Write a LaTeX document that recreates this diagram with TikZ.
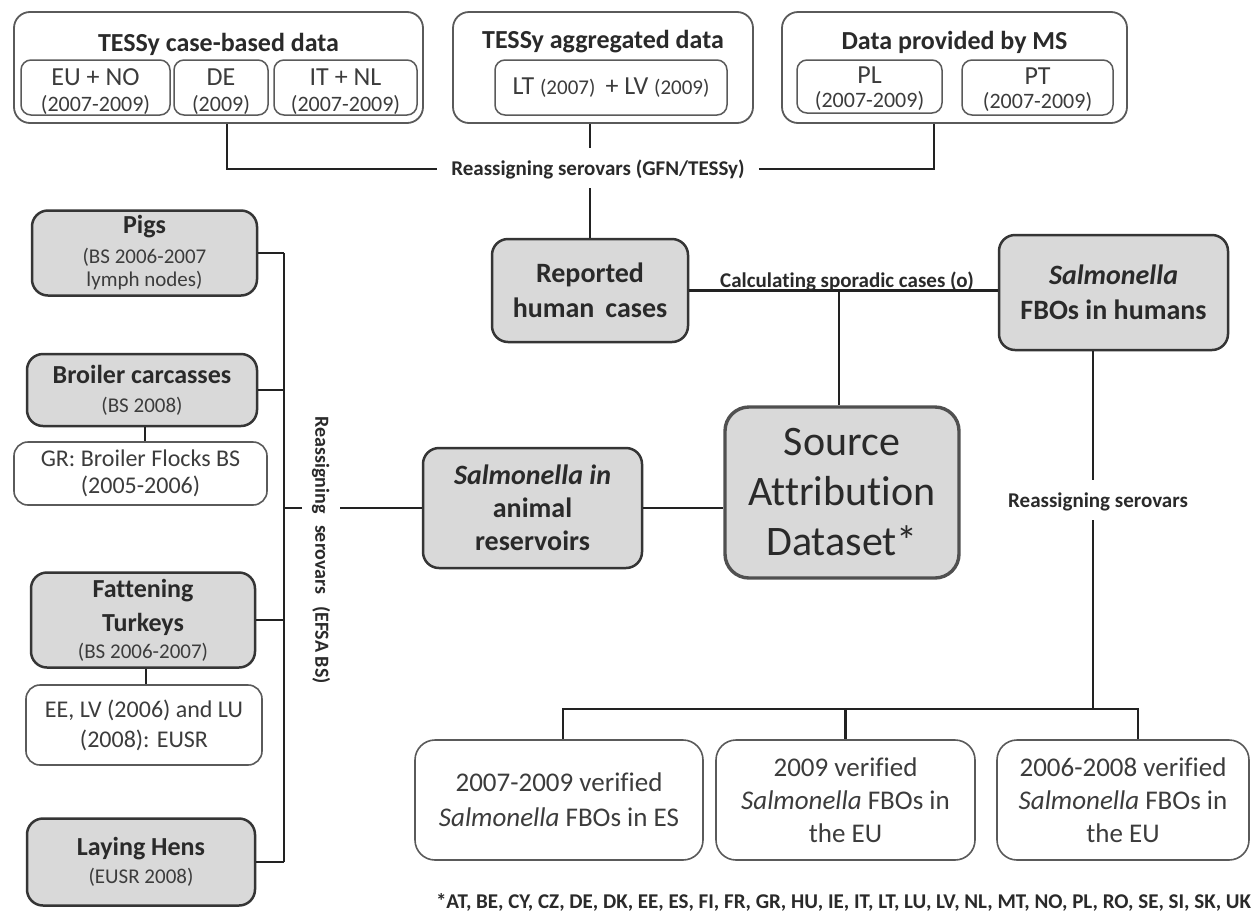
\documentclass[tikz,border=0pt]{standalone}
\usepackage{fontspec}
\setmainfont{Carlito}[Ligatures={NoCommon}]
\usetikzlibrary{calc}
\definecolor{gfill}{HTML}{D9D9D9}
\definecolor{gline}{HTML}{353535}
\definecolor{wline}{HTML}{5A5A5A}
\definecolor{txtc}{HTML}{2A2A2A}
\definecolor{wtxt}{HTML}{3C3C3C}
\definecolor{connc}{HTML}{222222}
\definecolor{srcline}{HTML}{505050}
\newcommand{\fsz}[2]{\fontsize{#1}{#2}\selectfont}
\begin{document}
\begin{tikzpicture}[x=1pt,y=-1pt,
  outerbox/.style={draw=wline, line width=1.8pt, rounded corners=16pt, inner sep=0pt},
  subbox/.style={draw=wline, line width=1.5pt, rounded corners=10pt, inner sep=0pt},
  subtxt/.style={align=center, text=wtxt, inner sep=0pt, font=\fsz{26}{26}},
  gbox/.style={draw=gline, fill=gfill, line width=2.5pt, rounded corners=16pt, inner sep=0pt, align=center, text=txtc},
  wbox/.style={draw=wline, fill=white, line width=1.6pt, rounded corners=14pt, inner sep=0pt, align=center, text=wtxt},
  ttl/.style={font=\bfseries\fsz{26}{30}, text=txtc, inner sep=0pt},
  lab/.style={font=\bfseries\fsz{21}{24}, text=txtc, inner sep=0pt},
  conn/.style={draw=connc, line width=2.4pt},
]
\fill[white] (0,0) rectangle (1252,911);
\useasboundingbox (0,0) rectangle (1252,911);

% ---------- top row ----------
\node[outerbox, minimum width=409pt, minimum height=111pt] (A) at (218.5,67.5) {};
\node[ttl] (At) at (218.5,44) {TESSy case-based data};
\node[subbox, minimum width=149pt, minimum height=55pt] (A1) at (95.5,87.5) {};
\node[subbox, minimum width=94pt, minimum height=55pt] (A2) at (221,87.5) {};
\node[subbox, minimum width=143pt, minimum height=55pt] (A3) at (345.5,87.5) {};
\node[subtxt] (A1t) at (95.5,92) {EU + NO\\{\fsz{22}{26}(2007-2009)}};
\node[subtxt] (A2t) at (221,92) {DE\\{\fsz{22}{26}(2009)}};
\node[subtxt] (A3t) at (345.5,92) {IT + NL\\{\fsz{22}{26}(2007-2009)}};

\node[outerbox, minimum width=300pt, minimum height=111pt] (B) at (603,67.5) {};
\node[ttl] (Bt) at (603,42) {TESSy aggregated data};
\node[subbox, minimum width=232pt, minimum height=55pt] (B1s) at (611,87.5) {};
\node[subtxt] (B1t) at (611,88) {LT {\fsz{21}{26}(2007)}\, + LV {\fsz{21}{26}(2009)}};

\node[outerbox, minimum width=345pt, minimum height=111pt] (C) at (954.5,67.5) {};
\node[ttl] (Ct) at (954.5,42) {Data provided by MS};
\node[subbox, minimum width=145pt, minimum height=53pt] (C1) at (869.5,86.5) {};
\node[subbox, minimum width=151pt, minimum height=55pt] (C2) at (1037.5,87.5) {};
\node[subtxt, font=\fsz{26}{24}] (C1t) at (869.5,89) {PL\\{\fsz{22}{24}(2007-2009)}};
\node[subtxt, font=\fsz{26}{24}] (C2t) at (1037.5,90) {PT\\{\fsz{22}{24}(2007-2009)}};

% GFN label and connectors
\node[lab, inner xsep=14pt, inner ysep=3pt] (gfn) at (598,169) {Reassigning serovars (GFN/TESSy)};
\coordinate (gB) at (590,148);
\coordinate (gR) at (590,188);
\draw[conn] ($(A.south)+(8.5,0)$) |- (gfn.west);
\draw[conn] (gfn.east) -| ($(C.south)+(-20.5,0)$);
\draw[conn] (B.south -| gB) -- (gB);

% ---------- middle ----------
\node[gbox, minimum width=196pt, minimum height=103pt, font=\bfseries\fsz{28}{35}] (Rep) at (590,290.5) {Reported\\human\, cases};
\draw[conn] (gR) -- (Rep.north);

\node[gbox, minimum width=229pt, minimum height=115pt, font=\bfseries\fsz{28}{35}] (FBO) at (1113.5,292.5) {\textit{Salmonella}\\FBOs in humans};
\draw[conn] (Rep.east) -- (Rep.east -| FBO.west);
\node[lab, anchor=base] (calc) at (847,287) {Calculating sporadic cases (o)};

\node[gbox, draw=srcline, line width=3.4pt, rounded corners=24pt, minimum width=234pt, minimum height=171pt, font=\fsz{42}{50}] (Src) at (842,492.5) {Source\\Attribution\\Dataset*};
\coordinate (cS) at (839,292);
\draw[conn] (cS) -- (cS |- Src.north);

\node[gbox, minimum width=219pt, minimum height=120pt, font=\bfseries\fsz{28}{33}] (Ani) at (532.5,508) {\textit{Salmonella in}\\animal\\reservoirs};
\draw[conn] (Ani.east) -- (Ani.east -| Src.west);

% FBO to bottom boxes
\node[lab] (rs2) at (1098,502) {Reassigning serovars};
\coordinate (fa) at (1093,480);
\coordinate (fb) at (1093,520);
\coordinate (fc) at (1093,709);
\draw[conn] (FBO.south -| fa) -- (fa);
\draw[conn] (fb) -- (fc);

\node[wbox, minimum width=288pt, minimum height=120pt, rounded corners=20pt, font=\fsz{27}{35}] (V1) at (559,800) {2007-2009 verified\\\textit{Salmonella} FBOs in ES};
\node[wbox, minimum width=259pt, minimum height=120pt, rounded corners=20pt, font=\fsz{27}{33}] (V2) at (845.5,800) {2009 verified\\\textit{Salmonella} FBOs in\\the EU};
\node[wbox, minimum width=252pt, minimum height=120pt, rounded corners=20pt, font=\fsz{27}{33}] (V3) at (1123,800) {2006-2008 verified\\\textit{Salmonella} FBOs in\\the EU};
\coordinate (d1) at (563,709);
\coordinate (d3) at (1138,709);
\draw[conn] (d1 |- V1.north) -- (d1) -- (d3) -- (d3 |- V3.north);
\draw[conn] (V2.north) -- (V2.north |- d1);

\node[font=\bfseries\fsz{21}{24}, text=txtc, inner sep=0pt] (fn) at (843.5,902) {*AT, BE, CY, CZ, DE, DK, EE, ES, FI, FR, GR, HU, IE, IT, LT, LU, LV, NL, MT, NO, PL, RO, SE, SI, SK, UK};

% ---------- left column ----------
\coordinate (busx) at (284,0);
\node[gbox, minimum width=225pt, minimum height=85pt, font=\fsz{21}{23}] (Pigs) at (144.5,253) {{\bfseries\fsz{26}{30}Pigs}\\[7pt]{\color{wtxt}(BS 2006-2007}\\{\color{wtxt}lymph nodes)}};
\node[gbox, minimum width=230pt, minimum height=72pt, font=\fsz{21}{29}] (Bro) at (142,390) {{\bfseries\fsz{26}{29}Broiler carcasses}\\{\color{wtxt}(BS 2008)}};
\node[wbox, minimum width=253pt, minimum height=63pt, font=\fsz{24}{27}] (GR) at (140.5,473.5) {GR: Broiler Flocks BS\\(2005-2006)};
\node[gbox, minimum width=224pt, minimum height=95pt, font=\fsz{21}{34}] (Fat) at (143,620) {{\bfseries\fsz{26}{34}Fattening}\\{\bfseries\fsz{26}{34}Turkeys}\\[-7pt]{\color{wtxt}(BS 2006-2007)}};
\node[wbox, minimum width=236pt, minimum height=80pt, font=\fsz{24}{30}] (EE) at (144,725) {EE, LV (2006) and LU\\(2008): EUSR};
\node[gbox, minimum width=228pt, minimum height=87pt, font=\fsz{21}{28}] (Lay) at (141,862) {{\bfseries\fsz{26}{28}Laying Hens}\\{\color{wtxt}(EUSR 2008)}};

\draw[conn] (Pigs.east) -- (Pigs.east -| busx);
\draw[conn] (Bro.east) -- (Bro.east -| busx);
\draw[conn] (Fat.east) -- (Fat.east -| busx);
\draw[conn] (Lay.east) -- (Lay.east -| busx);
\draw[conn] (Pigs.east -| busx) -- (Lay.east -| busx);
\draw[conn] ($(Bro.south)+(3,0)$) -- ($(GR.north)+(4.5,0)$);
\draw[conn] ($(Fat.south)+(3,0)$) -- ($(EE.north)+(2,0)$);

\node[font=\bfseries\fsz{20}{24}, text=txtc, rotate=-90, inner sep=0pt] (efsa) at (321,550) {Reassigning\hspace{7pt} serovars\hspace{7pt} (EFSA BS)};
\coordinate (g1) at (302,508);
\coordinate (g2) at (340,508);
\draw[conn] (Ani.west) -- (g2);
\draw[conn] (g1) -- (g1 -| busx);
\end{tikzpicture}
\end{document}
